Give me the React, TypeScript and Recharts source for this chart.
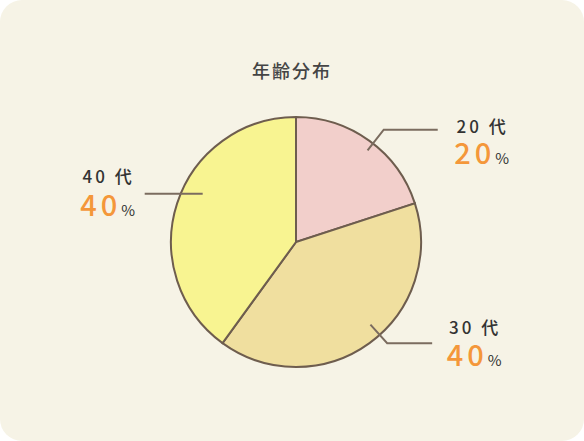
import { PieChart, Pie, Cell } from 'recharts';

const categories = ['20 代', '30 代', '40 代'];
const shares = [20, 40, 40];
const sliceColors = ['#f2cfcb', '#f0df9f', '#f8f491'];

// leader-line layout per slice (angle in degrees, radii as share of outerRadius)
const leaderLayout = [
  { angle: 52, r0: 0.93, r1: 1.14, run: 54, textDx: 42, nameDy: -4, pctDy: 34 },
  { angle: -48, r0: 0.89, r1: 1.09, run: 45, textDx: 40, nameDy: -17, pctDy: 23 },
  { angle: 152.7, r0: 0.84, r1: 0.84, run: -58, textDx: -39, nameDy: -18, pctDy: 22 },
];

const data = categories.map((name, i) => ({ name, value: shares[i] }));

const RAD = Math.PI / 180;
const FONT = '"Noto Sans CJK JP", sans-serif';

const renderLabel = (props: any) => {
  const { cx, cy, outerRadius, index, value } = props;
  const l = leaderLayout[index];
  const x0 = cx + Math.cos(l.angle * RAD) * outerRadius * l.r0;
  const y0 = cy - Math.sin(l.angle * RAD) * outerRadius * l.r0;
  const x1 = cx + Math.cos(l.angle * RAD) * outerRadius * l.r1;
  const y1 = cy - Math.sin(l.angle * RAD) * outerRadius * l.r1;
  const x2 = x1 + l.run;
  const tx = x2 + l.textDx;
  return (
    <g>
      <polyline
        points={`${x0},${y0} ${x1},${y1} ${x2},${y1}`}
        fill="none"
        stroke="#7b6c5f"
        strokeWidth={2}
      />
      <text
        x={tx + 3}
        y={y1 + l.nameDy}
        textAnchor="middle"
        dominantBaseline="central"
        fontSize={17}
        fontWeight={500}
        fill="#333"
        letterSpacing={3}
        style={{ fontFamily: FONT }}
      >
        {data[index].name}
      </text>
      <text x={tx + 2} y={y1 + l.pctDy} textAnchor="middle" style={{ fontFamily: FONT }}>
        <tspan fontSize={29} fill="#f4973a" fontWeight={500} letterSpacing={4}>
          {value}
        </tspan>
        <tspan fontSize={15} fill="#333">%</tspan>
      </text>
    </g>
  );
};

export default function App() {
  return (
    <div
      style={{
        position: 'absolute',
        top: 0,
        left: 0,
        width: 584,
        height: 441,
        background: '#fff',
      }}
    >
      <div
        style={{
          width: 584,
          height: 441,
          background: '#f6f3e6',
          borderRadius: 22,
          position: 'relative',
        }}
      >
        <div
          style={{
            position: 'absolute',
            top: 57,
            left: 0,
            width: 584,
            textAlign: 'center',
            fontFamily: FONT,
            fontSize: 18,
            fontWeight: 500,
            letterSpacing: 2,
            color: '#444',
          }}
        >
          年齢分布
        </div>
        <PieChart width={584} height={441} style={{ position: 'absolute', top: 0, left: 0 }}>
          <Pie
            data={data}
            dataKey="value"
            nameKey="name"
            cx={291}
            cy={237}
            outerRadius={125}
            startAngle={90}
            endAngle={-270}
            stroke="#6e5d4e"
            strokeWidth={2}
            label={renderLabel}
            labelLine={false}
            isAnimationActive={false}
          >
            {data.map((d, i) => (
              <Cell key={d.name} fill={sliceColors[i]} />
            ))}
          </Pie>
        </PieChart>
      </div>
    </div>
  );
}
